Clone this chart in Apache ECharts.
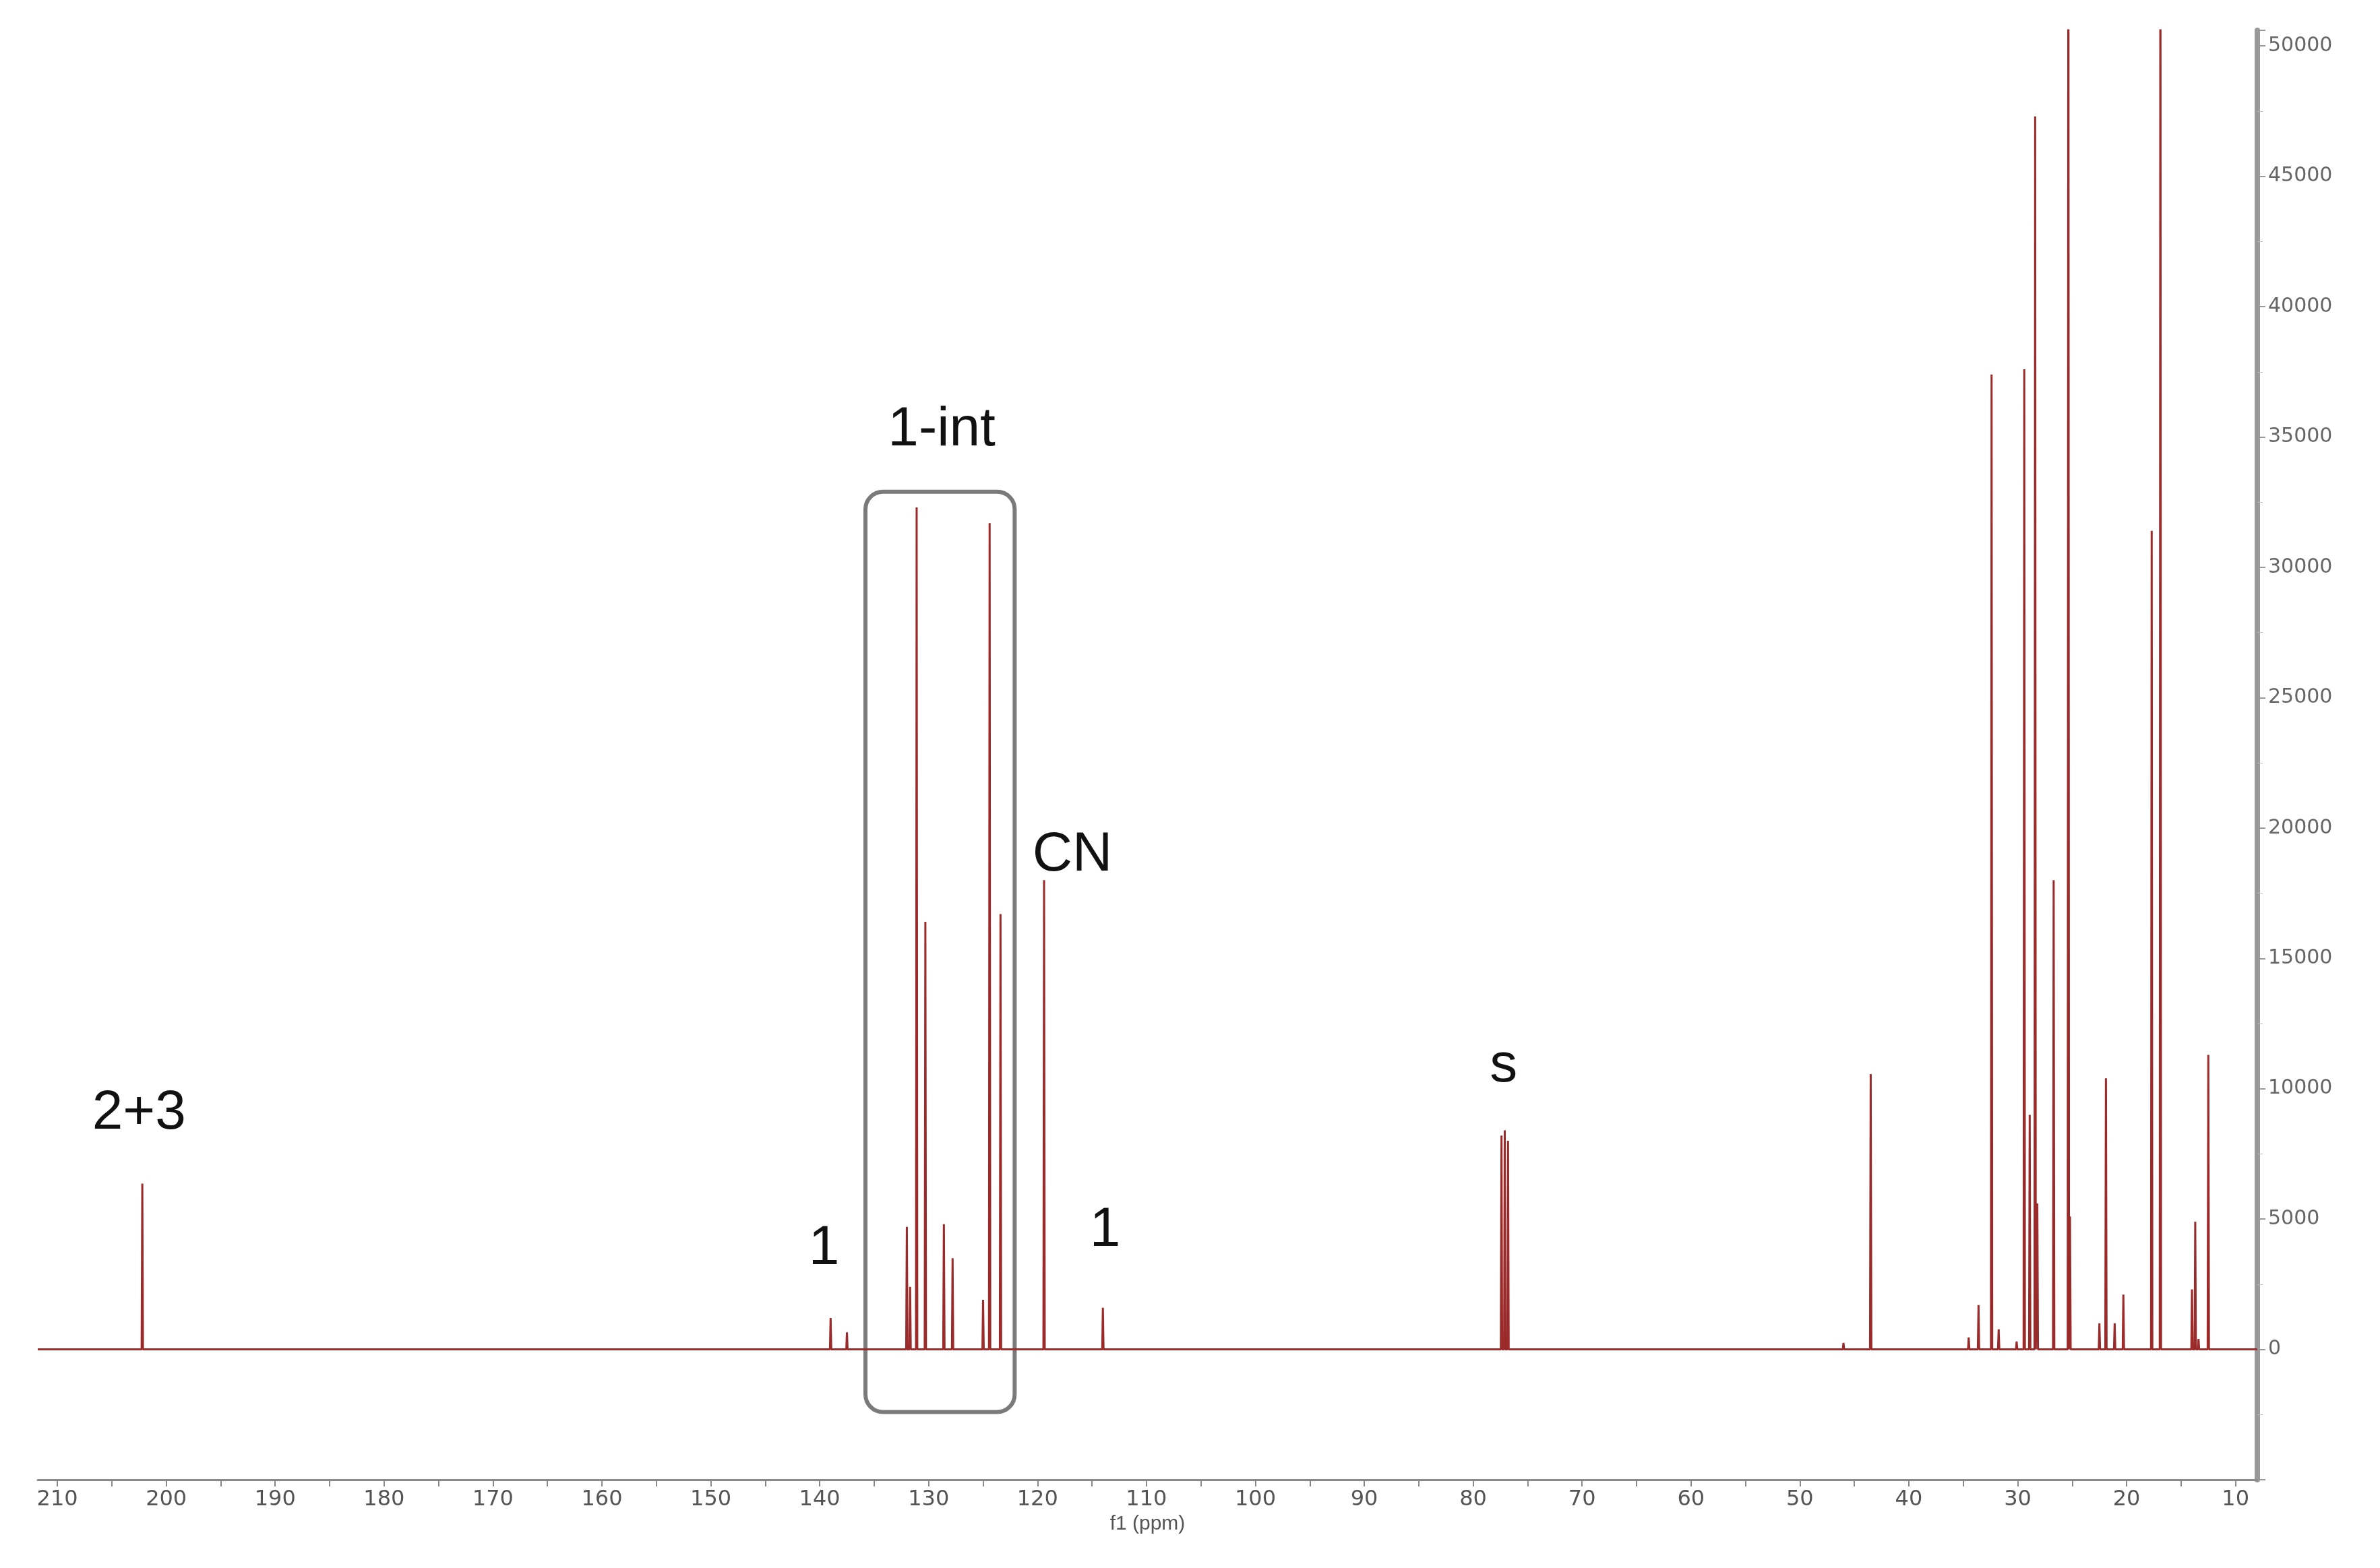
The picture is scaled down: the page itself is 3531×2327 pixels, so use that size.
<!DOCTYPE html>
<html><head><meta charset="utf-8">
<script src="https://cdn.jsdelivr.net/npm/echarts@6/dist/echarts.min.js"></script>
<style>html,body{margin:0;padding:0;background:#fff}#c{width:3531px;height:2327px}</style>
</head><body><div id="c"></div>
<script>
const peakPpm = [202.2,139.0,137.5,132.0,131.7,131.1,130.3,128.6,127.8,125.0,124.4,123.4,119.4,114.0,77.4,77.1,76.8,43.5,46.0,34.5,33.6,32.4,31.75,30.1,29.4,28.9,28.4,28.2,26.7,25.35,25.2,22.5,21.9,21.1,20.3,17.7,16.9,14.0,13.7,13.4,12.5];
const peakHeight = [6360,1200,650,4700,2400,32300,16400,4800,3500,1900,31700,16700,18000,1600,8200,8400,8000,10560,250,460,1700,37400,770,300,37600,9000,47300,5600,18000,60000,5100,1000,10400,1000,2100,31400,60000,2300,4900,400,11300];
const xLabels = [210,200,190,180,170,160,150,140,130,120,110,100,90,80,70,60,50,40,30,20,10];
const xTicks = [];
for (let v = 10; v <= 210; v += 5) xTicks.push(v);
const annotations = [
  {text:'2+3', ppm:202.5, val:8000},
  {text:'1', ppm:139.6, val:2800},
  {text:'1-int', ppm:128.8, val:34200},
  {text:'CN', ppm:116.8, val:17900},
  {text:'1', ppm:113.8, val:3500},
  {text:'s', ppm:77.2, val:9800}
];

const w = 0.06;
const pts = [];
peakPpm.forEach((p,i)=>{ pts.push([p+w,0],[p,peakHeight[i]],[p-w,0]); });
pts.push([211.8,0],[8,0]);
pts.sort((a,b)=>b[0]-a[0]);

const chart = echarts.init(document.getElementById('c'));
chart.setOption({
  animation:false,
  grid:{left:56,right:182,top:45,bottom:131},
  xAxis:{type:'value',inverse:true,min:8,max:211.8,
    axisLine:{show:true,onZero:false,lineStyle:{color:'#888',width:3}},
    axisTick:{show:true,customValues:xTicks,length:10,lineStyle:{color:'#888',width:2}},
    axisLabel:{customValues:xLabels,fontSize:32,color:'#555',fontFamily:'DejaVu Sans',margin:14},
    splitLine:{show:false},
    name:'f1 (ppm)',nameLocation:'middle',nameGap:48,nameTextStyle:{fontSize:30,color:'#555'}},
  yAxis:{type:'value',position:'right',min:-5000,max:50600,interval:5000,
    axisLine:{show:true,lineStyle:{color:'#999',width:8}},
    axisTick:{show:true,length:12,lineStyle:{color:'#999',width:2}},
    minorTick:{show:true,splitNumber:2,length:8,lineStyle:{color:'#bbb'}},
    axisLabel:{fontSize:30,color:'#666',fontFamily:'DejaVu Sans',margin:16,
      formatter:v=> (v<0||v>50000)?'':String(v)},
    splitLine:{show:false}},
  series:[{type:'line',data:pts,showSymbol:false,clip:true,
    lineStyle:{color:'#9b2a2a',width:3}}]
});

const g = [];
annotations.forEach(a=>{
  const [x,y] = chart.convertToPixel({xAxisIndex:0,yAxisIndex:0},[a.ppm,a.val]);
  g.push({type:'text',x:x,y:y,style:{text:a.text,fontSize:82,fill:'#111',fontFamily:'Liberation Sans, Arial',align:'center',verticalAlign:'bottom'}});
});
const p1 = chart.convertToPixel({xAxisIndex:0,yAxisIndex:0},[135.8,32900]);
const p2 = chart.convertToPixel({xAxisIndex:0,yAxisIndex:0},[122.1,-2400]);
g.push({type:'rect',shape:{x:p1[0],y:p1[1],width:p2[0]-p1[0],height:p2[1]-p1[1],r:26},
  style:{fill:'none',stroke:'#7a7a7a',lineWidth:6}});
chart.setOption({graphic:g});
</script></body></html>
